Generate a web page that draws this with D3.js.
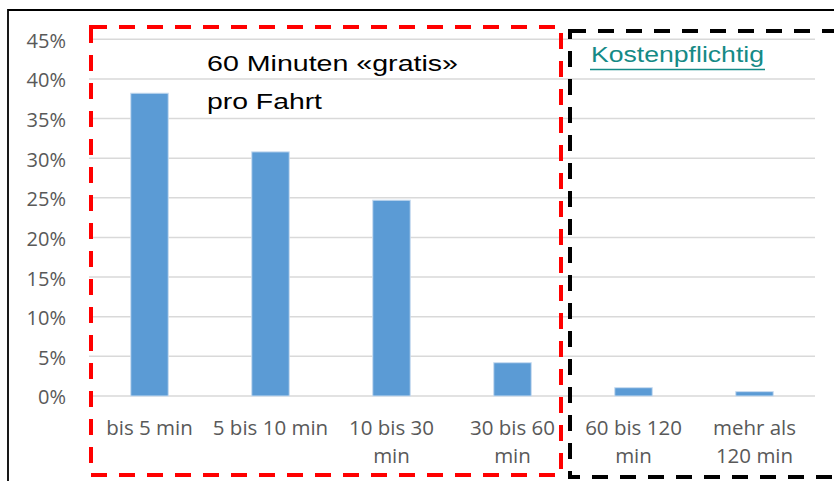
<!DOCTYPE html>
<html>
<head>
<meta charset="utf-8">
<script src="https://cdn.jsdelivr.net/npm/d3@7"></script>
<style>
  html, body { margin: 0; padding: 0; background: #fff; }
  svg { display: block; }
</style>
</head>
<body>
<div id="chart"></div>
<script>
// Werte (Anteil der Fahrten)
var categories = ["bis 5 min", "5 bis 10 min", "10 bis 30 min", "30 bis 60 min", "60 bis 120 min", "mehr als 120 min"];
var labelLines = [["bis 5 min"], ["5 bis 10 min"], ["10 bis 30", "min"], ["30 bis 60", "min"], ["60 bis 120", "min"], ["mehr als", "120 min"]];
var values = [0.382, 0.308, 0.247, 0.042, 0.0105, 0.0055];
var yTicks = [0, 0.05, 0.10, 0.15, 0.20, 0.25, 0.30, 0.35, 0.40, 0.45];
var freeLines = ["60 Minuten «gratis»", "pro Fahrt"];
var paidLabel = "Kostenpflichtig";

const width = 834, height = 481;
const plot = { left: 89, right: 815, top: 39.3, bottom: 396 };

var svg = d3.select("#chart")
    .append("svg")
    .attr("width", width)
    .attr("height", height);

// Rahmen
svg.append("path")
    .attr("d", "M8,490 V10 H840")
    .attr("fill", "none")
    .attr("stroke", "#000")
    .attr("stroke-width", 1.8);

var xScale = d3.scaleBand()
    .domain(categories)
    .range([plot.left, plot.right])
    .paddingInner(0.69)
    .paddingOuter(0.345);

var yScale = d3.scaleLinear()
    .domain([0, 0.45])
    .range([plot.bottom, plot.top]);

// Gitterlinien
svg.append("g")
    .selectAll("line")
    .data(yTicks)
    .enter().append("line")
    .attr("x1", plot.left)
    .attr("x2", plot.right)
    .attr("y1", function(d) { return yScale(d); })
    .attr("y2", function(d) { return yScale(d); })
    .attr("stroke", "#d9d9d9")
    .attr("stroke-width", 1.5);

// y-Achse
var yAxis = svg.append("g")
    .attr("transform", "translate(" + (plot.left - 23) + ",1.5)")
    .call(d3.axisLeft(yScale).tickValues(yTicks).tickSize(0).tickPadding(0).tickFormat(d3.format(".0%")));
yAxis.select(".domain").remove();
yAxis.selectAll("text")
    .attr("font-family", "Open Sans")
    .attr("font-size", "20px")
    .attr("fill", "#595959");

// Balken
svg.append("g")
    .selectAll("rect")
    .data(values)
    .enter().append("rect")
    .attr("x", function(d, i) { return xScale(categories[i]); })
    .attr("y", function(d) { return yScale(d); })
    .attr("width", xScale.bandwidth())
    .attr("height", function(d) { return yScale(0) - yScale(d); })
    .attr("fill", "#5b9bd5")
    .attr("stroke", "#c9dcf0")
    .attr("stroke-width", 1);

// x-Achse (Kategorien, umgebrochen)
var xAxis = svg.append("g")
    .attr("transform", "translate(0," + plot.bottom + ")")
    .call(d3.axisBottom(xScale).tickSize(0).tickFormat(""));
xAxis.select(".domain").remove();
xAxis.selectAll(".tick").each(function(d, i) {
    var t = d3.select(this).append("text")
        .attr("text-anchor", "middle")
        .attr("font-family", "Open Sans")
        .attr("font-size", "20.5px")
        .attr("fill", "#595959");
    labelLines[i].forEach(function(line, j) {
        t.append("tspan")
            .attr("x", 0)
            .attr("y", 39 + j * 28)
            .text(line);
    });
});

// Markierungen: rote und schwarze gestrichelte Kästen
svg.append("rect")
    .attr("x", 91)
    .attr("y", 27)
    .attr("width", 470)
    .attr("height", 448)
    .attr("fill", "none")
    .attr("stroke", "#ff0000")
    .attr("stroke-width", 4)
    .attr("stroke-dasharray", "16,12");

svg.append("rect")
    .attr("x", 570)
    .attr("y", 31)
    .attr("width", 300)
    .attr("height", 446)
    .attr("fill", "none")
    .attr("stroke", "#000")
    .attr("stroke-width", 4)
    .attr("stroke-dasharray", "16,12");

// Beschriftungen
var freeLengths = [251, 115];
svg.append("g")
    .selectAll("text")
    .data(freeLines)
    .enter().append("text")
    .attr("x", 207)
    .attr("y", function(d, i) { return 70.7 + i * 37.8; })
    .attr("font-family", "Liberation Sans")
    .attr("font-size", "22px")
    .attr("fill", "#000")
    .attr("textLength", function(d, i) { return freeLengths[i]; })
    .attr("lengthAdjust", "spacingAndGlyphs")
    .text(function(d) { return d; });

svg.append("text")
    .attr("x", 591)
    .attr("y", 62)
    .attr("font-family", "Liberation Sans")
    .attr("font-size", "22px")
    .attr("fill", "#158a86")
    .attr("textLength", 173)
    .attr("lengthAdjust", "spacingAndGlyphs")
    .text(paidLabel);

svg.append("line")
    .attr("x1", 590)
    .attr("x2", 765)
    .attr("y1", 69.5)
    .attr("y2", 69.5)
    .attr("stroke", "#158a86")
    .attr("stroke-width", 1.5);
</script>
</body>
</html>
